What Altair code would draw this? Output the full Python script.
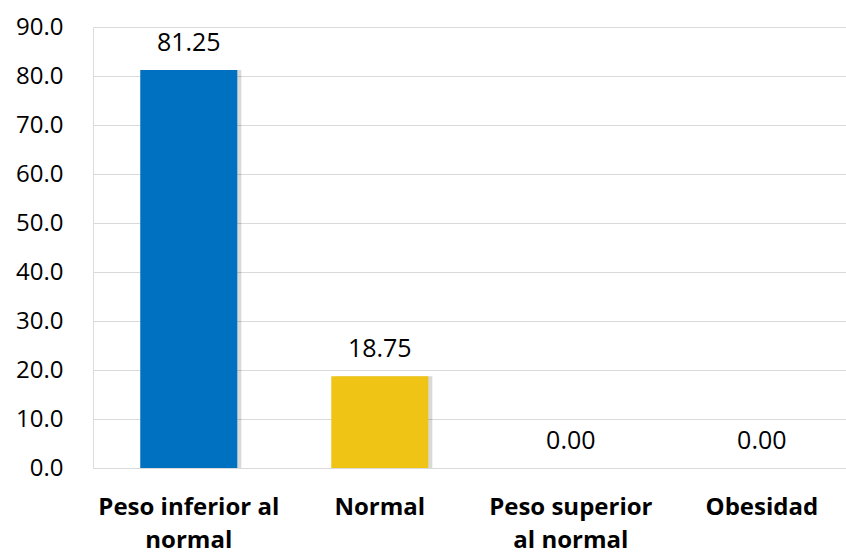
import altair as alt
import pandas as pd

# Categories (line breaks mark where axis labels wrap) and percentages
categories = ["Peso inferior al\nnormal", "Normal", "Peso superior\nal normal", "Obesidad"]
values = [81.25, 18.75, 0.00, 0.00]
colors = ["#0070C0", "#F0C415", "#A5A5A5", "#5B9BD5"]

df = pd.DataFrame({"cat": categories, "val": values, "col": colors})
df["lbl"] = df["val"].map(lambda v: f"{v:.2f}")

FONT = "Open Sans"

x = alt.X(
    "cat:N",
    sort=categories,
    scale=alt.Scale(paddingInner=0.492, paddingOuter=0.217, align=0.57),
    axis=alt.Axis(
        title=None,
        labelAngle=0,
        labelExpr="split(datum.label, '\\n')",
        labelFont=FONT,
        labelFontSize=24,
        labelFontWeight="bold",
        labelColor="#000000",
        labelPadding=27,
        labelLineHeight=33,
        labelLimit=400,
        ticks=False,
        domain=True,
        domainColor="#D9D9D9",
        grid=False,
    ),
)
y = alt.Y(
    "val:Q",
    scale=alt.Scale(domain=[0, 90]),
    axis=alt.Axis(
        title=None,
        values=list(range(0, 91, 10)),
        format=".1f",
        labelFont=FONT,
        labelFontSize=24,
        labelColor="#000000",
        labelPadding=30,
        ticks=False,
        domain=False,
        grid=True,
        gridColor="#D9D9D9",
        gridWidth=1,
    ),
)

base = alt.Chart(df)

shadow = base.mark_bar(color="#000000", opacity=0.15, xOffset=4).encode(x=x, y=y)
bars = base.mark_bar().encode(x=x, y=y, color=alt.Color("col:N", scale=None))
text = base.mark_text(
    font=FONT, fontSize=25, color="#000000", baseline="alphabetic", dy=-19
).encode(x=x, y=y, text="lbl:N")

chart = (
    alt.layer(shadow, bars, text)
    .properties(
        width=753,
        height=441,
        autosize=alt.AutoSizeParams(type="none"),
        padding={"left": 93, "top": 27, "right": 0, "bottom": 85},
    )
    .configure_view(stroke=None)
    .configure(background="#FFFFFF")
)

chart.save("out.html", embed_options={"renderer": "svg", "actions": False})
